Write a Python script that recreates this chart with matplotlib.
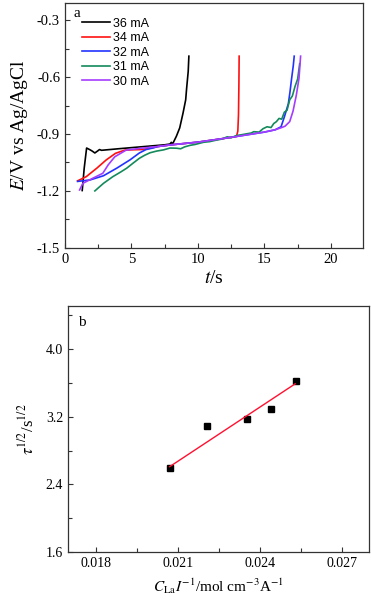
import matplotlib
matplotlib.use('Agg')
import numpy as np
import matplotlib.pyplot as plt
from matplotlib.ticker import MultipleLocator, FormatStrFormatter

plt.rcParams['font.family'] = ['Liberation Serif', 'DejaVu Serif']
plt.rcParams['mathtext.fontset'] = 'stix'
plt.rcParams['axes.unicode_minus'] = False

# (a) chronopotentiograms, t / s and E / V vs Ag/AgCl
labels_a = ['36 mA', '34 mA', '32 mA', '31 mA', '30 mA']
colors_a = ['#000000', '#ff1010', '#2233ff', '#148a5c', '#a43cff']

t_36 = [1.3, 1.45, 1.63, 1.88, 2.05, 2.25, 2.45, 2.6, 2.75, 4.0, 6.0, 7.5, 7.9, 8.0, 8.1,
        8.38, 8.63, 8.88, 9.08, 9.15, 9.27, 9.32]
E_36 = [-1.198, -1.08, -0.974, -0.983, -0.99, -1.0, -0.99, -0.982, -0.986, -0.978, -0.966,
        -0.957, -0.953, -0.944, -0.952, -0.912, -0.868, -0.79, -0.72, -0.66, -0.57, -0.49]

t_34 = [0.95, 1.6, 2.4, 3.1, 3.8, 4.5, 5.2, 5.8, 6.4, 7.0, 8.0, 9.0, 10.0, 11.0, 12.0,
        12.9, 13.0, 13.05, 13.08, 13.1]
E_34 = [-1.147, -1.125, -1.08, -1.037, -1.002, -0.985, -0.983, -0.982, -0.975, -0.966,
        -0.957, -0.95, -0.943, -0.933, -0.923, -0.913, -0.885, -0.80, -0.65, -0.49]

t_32 = [0.95, 1.9, 2.9, 3.9, 4.9, 5.6, 6.1, 6.6, 7.0, 8.0, 9.0, 10.0, 11.0, 12.0, 13.0,
        14.0, 15.0, 15.8, 16.25, 16.5, 16.8, 16.92, 17.04, 17.17, 17.24]
E_32 = [-1.15, -1.142, -1.12, -1.08, -1.036, -1.0, -0.982, -0.974, -0.966, -0.957, -0.95,
        -0.943, -0.933, -0.923, -0.912, -0.901, -0.89, -0.878, -0.862, -0.81, -0.74, -0.68,
        -0.61, -0.54, -0.49]

t_31 = [2.25, 2.9, 3.6, 4.2, 4.65, 5.1, 5.6, 6.0, 6.4, 6.9, 7.4, 7.9, 8.4, 8.7, 9.0, 9.4,
        9.8, 10.4, 10.9, 11.4, 11.8, 12.2, 12.5, 12.9, 13.2, 13.6, 14.0, 14.2, 14.6, 14.9,
        15.2, 15.5, 15.7, 15.9, 16.1, 16.3, 16.5, 16.7, 16.9, 17.1, 17.3, 17.5, 17.65]
E_31 = [-1.2, -1.16, -1.125, -1.1, -1.08, -1.055, -1.028, -1.012, -0.999, -0.99, -0.984,
        -0.974, -0.975, -0.978, -0.968, -0.96, -0.955, -0.944, -0.94, -0.932, -0.927, -0.915,
        -0.92, -0.908, -0.905, -0.9, -0.895, -0.888, -0.89, -0.872, -0.862, -0.866, -0.845,
        -0.835, -0.818, -0.822, -0.785, -0.775, -0.72, -0.7, -0.65, -0.61, -0.53]

t_30 = [1.1, 1.35, 2.1, 2.85, 3.25, 3.75, 4.6, 5.6, 6.4, 7.0, 8.0, 9.0, 10.0, 11.0, 12.0,
        13.0, 14.0, 15.0, 15.8, 16.3, 16.55, 16.9, 17.15, 17.4, 17.6, 17.72]
E_30 = [-1.195, -1.16, -1.133, -1.107, -1.063, -1.02, -0.985, -0.976, -0.97, -0.966, -0.957,
        -0.95, -0.943, -0.933, -0.923, -0.912, -0.901, -0.89, -0.878, -0.866, -0.859, -0.835,
        -0.78, -0.695, -0.607, -0.49]

# (b) tau^1/2 vs C_La / I
x_b = [0.02071, 0.02205, 0.02353, 0.02441, 0.02534]
y_b = [2.60, 3.094, 3.168, 3.298, 3.624]
fit_x = [0.0207, 0.0253]
fit_y = [2.61, 3.59]

fig = plt.figure(figsize=(3.71, 6.06), dpi=100)

ax1 = fig.add_axes([0.175, 0.591, 0.803, 0.404])
series = [(t_36, E_36), (t_34, E_34), (t_32, E_32), (t_31, E_31), (t_30, E_30)]
for (t, E), lab, c in zip(series, labels_a, colors_a):
    ax1.plot(t, E, color=c, lw=1.2, label=lab)
ax1.set_xlim(0, 22.4)
ax1.set_ylim(-1.5, -0.21)
ax1.xaxis.set_major_locator(MultipleLocator(5))
ax1.xaxis.set_minor_locator(MultipleLocator(2.5))
ax1.yaxis.set_major_locator(MultipleLocator(0.3))
ax1.yaxis.set_minor_locator(MultipleLocator(0.15))
ax1.yaxis.set_major_formatter(FormatStrFormatter('%.1f'))
ax1.set_xlabel(r'$t$/s', fontsize=14, labelpad=3)
ax1.set_ylabel(r'$E$/V vs Ag/AgCl', fontsize=14, labelpad=5)
ax1.text(0.03, 0.985, 'a', transform=ax1.transAxes, fontsize=11, va='top')
ax1.legend(loc='upper left', bbox_to_anchor=(0.058, 0.94), frameon=False,
           prop={'family': 'Liberation Sans', 'size': 9}, handlelength=2.2,
           handletextpad=0.25, labelspacing=0.2, borderpad=0, borderaxespad=0)

ax2 = fig.add_axes([0.183, 0.089, 0.812, 0.406])
ax2.plot(x_b, y_b, 's', color='black', ms=3.8)
ax2.plot(fit_x, fit_y, color='#ff1030', lw=1.0)
ax2.set_xlim(0.01697, 0.02801)
ax2.set_ylim(1.6, 4.51)
ax2.xaxis.set_major_locator(MultipleLocator(0.003))
ax2.xaxis.set_minor_locator(MultipleLocator(0.0015))
ax2.yaxis.set_major_locator(MultipleLocator(0.8))
ax2.yaxis.set_minor_locator(MultipleLocator(0.4))
ax2.xaxis.set_major_formatter(FormatStrFormatter('%.3f'))
ax2.yaxis.set_major_formatter(FormatStrFormatter('%.1f'))
ax2.set_xlabel(r'$C_{\rm La}I^{-1}$/mol cm$^{-3}$A$^{-1}$', fontsize=11, labelpad=5)
ax2.set_ylabel(r'$\tau^{1/2}$/s$^{1/2}$', fontsize=12, labelpad=6)
ax2.text(0.035, 0.96, 'b', transform=ax2.transAxes, fontsize=11, va='top')

for ax, ls in ((ax1, 10.5), (ax2, 10)):
    for s in ax.spines.values():
        s.set_linewidth(0.9)
        s.set_color('#333333')
    ax.tick_params(which='both', direction='in', top=False, right=False,
                   labelsize=ls, color='#333333')
    ax.tick_params(which='major', length=3.5, width=0.8)
    ax.tick_params(which='minor', length=3, width=0.8)

fig.savefig('out.png', dpi=100)
